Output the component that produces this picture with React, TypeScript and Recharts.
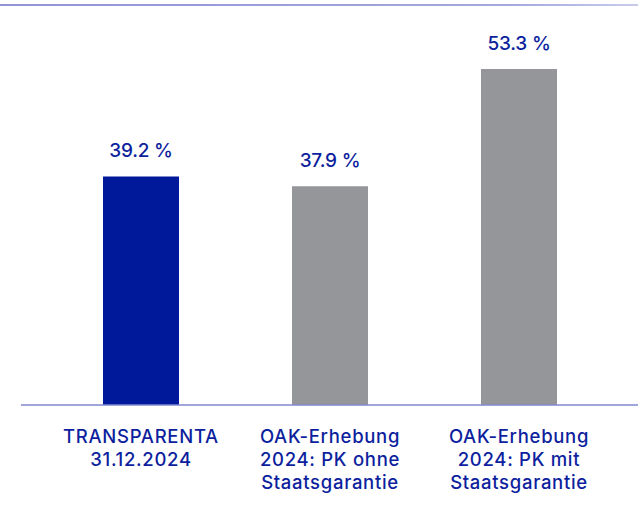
import React from "react";
import { BarChart, Bar, XAxis, YAxis, Cell, LabelList } from "recharts";

const categories = ["TRANSPARENTA 31.12.2024", "OAK-Erhebung 2024: PK ohne Staatsgarantie", "OAK-Erhebung 2024: PK mit Staatsgarantie"];
const tickLines = [
  ["TRANSPARENTA", "31.12.2024"],
  ["OAK-Erhebung", "2024: PK ohne", "Staatsgarantie"],
  ["OAK-Erhebung", "2024: PK mit", "Staatsgarantie"],
];
const values = [39.2, 37.9, 53.3];
const valueLabels = ["39.2 %", "37.9 %", "53.3 %"];
const barColors = ["#00189a", "#959699", "#959699"];

const data = categories.map((c, i) => ({ name: c, value: values[i], label: valueLabels[i], idx: i }));

const TEXT = "#0d1f9e";
const FONT = "Inter, 'DejaVu Sans', sans-serif";

const Tick = (props: any) => {
  const { x, y, payload } = props;
  const lines = tickLines[payload.index] || [payload.value];
  return (
    <text x={x} y={y} textAnchor="middle" fill={TEXT} fontFamily={FONT} fontSize={18.5} fontWeight={500} letterSpacing={0.7}>
      {lines.map((l: string, i: number) => (
        <tspan key={i} x={x} dy={i === 0 ? 30 : 23}>{l}</tspan>
      ))}
    </text>
  );
};

export default function App() {
  return (
    <div style={{ position: "absolute", left: 0, top: 0, width: 638, height: 523, background: "#fff" }}>
      <div style={{ position: "absolute", left: 0, top: 4, width: 638, height: 1.5, background: "linear-gradient(to right, #9095d6, #a4a8de 80%, #c9cbec)" }} />
      <BarChart width={638} height={523} data={data} margin={{ top: 5, right: 0, left: 21, bottom: 0 }} barCategoryGap={56.5}>
        <YAxis hide domain={[9.2, 61.7]} />
        <XAxis
          dataKey="name"
          height={118}
          axisLine={{ stroke: "#8088d0", strokeWidth: 1.5 }}
          tickLine={false}
          tick={<Tick />}
          interval={0}
          padding={{ left: 25.5, right: 24.5 }}
        />
        <Bar dataKey="value" isAnimationActive={false}>
          {data.map((d, i) => (
            <Cell key={i} fill={barColors[i]} />
          ))}
          <LabelList dataKey="label" position="top" offset={19} fill={TEXT} fontFamily={FONT} fontSize={19} fontWeight={500} letterSpacing={-0.2} />
        </Bar>
      </BarChart>
    </div>
  );
}
